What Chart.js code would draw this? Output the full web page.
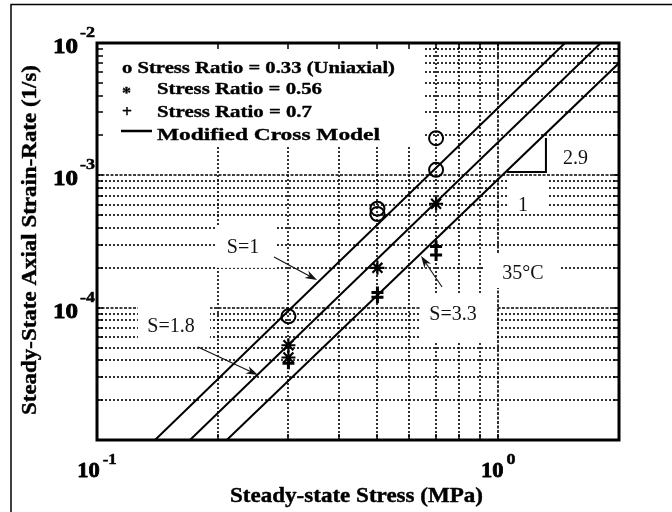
<!DOCTYPE html>
<html>
<head>
<meta charset="utf-8">
<script src="https://cdn.jsdelivr.net/npm/chart.js@4.4.1/dist/chart.umd.min.js"></script>
<style>
  html, body { margin: 0; padding: 0; background: #fff; }
  canvas { display: block; }
</style>
</head>
<body>
<canvas id="creep" width="672" height="512" style="width:672px;height:512px"></canvas>
<script>
// Measured steady-state creep: stress (MPa) vs axial strain-rate (1/s)
const stressUniaxial = [0.3, 0.5, 0.5, 0.7, 0.7];
const rateUniaxial   = [8.6e-5, 5.6e-4, 5.1e-4, 1.91e-3, 1.1e-3];
const stress056      = [0.3, 0.3, 0.5, 0.7];
const rate056        = [5.2e-5, 4.2e-5, 2.0e-4, 6.1e-4];
const stress07       = [0.3, 0.5, 0.5, 0.7, 0.7];
const rate07         = [3.8e-5, 1.3e-4, 1.2e-4, 2.9e-4, 2.5e-4];

// Modified Cross Model fits (straight lines on log-log axes), end points
const modelStressS1  = [0.1395, 1.467];
const modelRateS1    = [1e-5, 1e-2];
const modelStressS18 = [0.1705, 1.801];
const modelRateS18   = [1e-5, 1e-2];
const modelStressS33 = [0.2106, 2.0];
const modelRateS33   = [1e-5, 7.06e-3];

// Grid / tick values
const xGrid = [0.1, 0.2, 0.3, 0.4, 0.5, 0.6, 0.7, 0.8, 0.9, 1, 2];
const yGrid = [1e-5, 2e-5, 3e-5, 4e-5, 5e-5, 6e-5, 7e-5, 8e-5, 9e-5,
               1e-4, 2e-4, 3e-4, 4e-4, 5e-4, 6e-4, 7e-4, 8e-4, 9e-4,
               1e-3, 2e-3, 3e-3, 4e-3, 5e-3, 6e-3, 7e-3, 8e-3, 9e-3, 1e-2];
const xMajor = [0.1, 1];
const xExponents = ['-1', '0'];
const yMajor = [1e-2, 1e-3, 1e-4];
const yExponents = ['-2', '-3', '-4'];

const legendTexts = ['o Stress Ratio = 0.33 (Uniaxial)', '*', 'Stress Ratio = 0.56',
                     '+', 'Stress Ratio = 0.7', 'Modified Cross Model'];
const xTitle = 'Steady-state Stress (MPa)';
const yTitle = 'Steady-State Axial Strain-Rate (1/s)';

// Annotation layout, in axis units
const notes = [
  { text: 'S=1',   x: 0.2311, y: 2.588e-4 },
  { text: 'S=1.8', x: 0.1529, y: 6.55e-5 },
  { text: 'S=3.3', x: 0.7713, y: 8.07e-5 },
  { text: '35°C',  x: 1.153,  y: 1.647e-4 },
  { text: '1',     x: 1.153,  y: 5.38e-4 },
  { text: '2.9',   x: 1.559,  y: 1.218e-3 }
];
const noteBoxes = [
  [0.199, 0.2778, 2.0e-4, 4.214e-4],
  [0.1265, 0.1913, 5.9e-5, 1.066e-4],
  [0.6384, 0.9931, 5.6e-5, 1.29e-4],
  [0.922, 1.426, 1.408e-4, 2.59e-4],
  [1.058, 1.331, 5.28e-4, 9.22e-4],
  [0.1, 0.6496, 1.637e-3, 1e-2]      // legend panel
];
const arrows = [
  [0.2762, 2.414e-4, 0.3535, 1.618e-4],
  [0.1785, 5.04e-5, 0.2519, 3.10e-5],
  [0.7244, 1.432e-4, 0.6422, 2.457e-4]
];
const slopeTri = { x0: 1.052, x1: 1.315, y0: 1.06e-3, y1: 1.915e-3 };

const toPoints = (xs, ys) => xs.map((v, i) => ({ x: v, y: ys[i] }));

const SERIF = '"Liberation Serif", "Times New Roman", serif';

// Draw text stretched to a given advance width; optional outline thickens the strokes
function fitText(ctx, text, font, x, y, width, angle, heavy) {
  ctx.save();
  ctx.font = font;
  const natural = ctx.measureText(text).width;
  ctx.translate(x, y);
  if (angle) ctx.rotate(angle);
  ctx.scale(width / natural, 1);
  ctx.textAlign = 'left';
  ctx.textBaseline = 'alphabetic';
  ctx.fillText(text, 0, 0);
  if (heavy) {
    ctx.lineWidth = heavy;
    ctx.lineJoin = 'round';
    ctx.strokeStyle = ctx.fillStyle;
    ctx.strokeText(text, 0, 0);
  }
  ctx.restore();
}

function arrow(ctx, x1, y1, x2, y2) {
  const ang = Math.atan2(y2 - y1, x2 - x1);
  const len = 12, half = 4;
  ctx.beginPath();
  ctx.moveTo(x1, y1);
  ctx.lineTo(x2 - Math.cos(ang) * 6, y2 - Math.sin(ang) * 6);
  ctx.lineWidth = 1.1;
  ctx.stroke();
  ctx.beginPath();
  ctx.moveTo(x2, y2);
  ctx.lineTo(x2 - len * Math.cos(ang) + half * Math.sin(ang), y2 - len * Math.sin(ang) - half * Math.cos(ang));
  ctx.lineTo(x2 - 0.7 * len * Math.cos(ang), y2 - 0.7 * len * Math.sin(ang));
  ctx.lineTo(x2 - len * Math.cos(ang) - half * Math.sin(ang), y2 - len * Math.sin(ang) + half * Math.cos(ang));
  ctx.closePath();
  ctx.fill();
}

const figurePlugin = {
  id: 'figureDecor',
  beforeDraw(chart) {
    const ctx = chart.ctx;
    ctx.save();
    ctx.fillStyle = '#fff';
    ctx.fillRect(0, 0, chart.width, chart.height);
    ctx.restore();
  },
  beforeDatasetsDraw(chart) {
    const { ctx, chartArea: a, scales: { x, y } } = chart;
    ctx.save();
    ctx.strokeStyle = '#000';
    ctx.lineWidth = 1.6;
    xGrid.forEach(v => {
      if (v <= 0.1 || v >= 2) return;
      const px = Math.round(x.getPixelForValue(v));
      ctx.setLineDash(xMajor.includes(v) ? [3, 1.5] : [2, 2]);
      ctx.beginPath(); ctx.moveTo(px, a.top); ctx.lineTo(px, a.bottom); ctx.stroke();
    });
    yGrid.forEach(v => {
      if (v <= 1e-5 || v >= 1e-2) return;
      const py = Math.round(y.getPixelForValue(v));
      ctx.setLineDash(yMajor.includes(v) ? [3, 1.5] : [2, 2]);
      ctx.beginPath(); ctx.moveTo(a.left, py); ctx.lineTo(a.right, py); ctx.stroke();
    });
    ctx.setLineDash([]);
    // white panels behind the labels
    ctx.fillStyle = '#fff';
    noteBoxes.forEach(([x0, x1, y0, y1]) => {
      const l = x.getPixelForValue(x0), r = x.getPixelForValue(x1);
      const t = y.getPixelForValue(y1), b = y.getPixelForValue(y0);
      ctx.fillRect(l, t, r - l, b - t);
    });
    ctx.restore();
  },
  afterDatasetsDraw(chart) {
    const { ctx, chartArea: a, scales: { x, y } } = chart;
    ctx.save();
    ctx.strokeStyle = '#000';
    ctx.fillStyle = '#000';

    // inward ticks on all four sides
    ctx.lineWidth = 1.5;
    xGrid.forEach(v => {
      if (v <= 0.1 || v >= 2) return;
      const px = Math.round(x.getPixelForValue(v));
      ctx.beginPath();
      ctx.moveTo(px, a.bottom); ctx.lineTo(px, a.bottom - 6);
      ctx.moveTo(px, a.top); ctx.lineTo(px, a.top + 6);
      ctx.stroke();
    });
    yGrid.forEach(v => {
      if (v <= 1e-5 || v >= 1e-2) return;
      const py = Math.round(y.getPixelForValue(v));
      ctx.beginPath();
      ctx.moveTo(a.left, py); ctx.lineTo(a.left + 6, py);
      ctx.moveTo(a.right, py); ctx.lineTo(a.right - 6, py);
      ctx.stroke();
    });

    // axes box
    ctx.lineWidth = 3;
    ctx.strokeRect(a.left, a.top, a.right - a.left, a.bottom - a.top);

    // legend
    const LF = 'bold 17px ' + SERIF;
    const L = a.left, T = a.top;
    fitText(ctx, legendTexts[0], LF, L + 25, T + 30, 273, 0, 0.35);
    fitText(ctx, legendTexts[1], LF, L + 25, T + 55, 9, 0, 0.35);
    fitText(ctx, legendTexts[2], LF, L + 60, T + 51, 165, 0, 0.35);
    fitText(ctx, legendTexts[3], LF, L + 25, T + 74, 10, 0, 0.35);
    fitText(ctx, legendTexts[4], LF, L + 60, T + 74, 155, 0, 0.35);
    ctx.lineWidth = 2.5;
    ctx.beginPath(); ctx.moveTo(L + 24, T + 88); ctx.lineTo(L + 55, T + 88); ctx.stroke();
    fitText(ctx, legendTexts[5], LF, L + 60, T + 97, 223, 0, 0.35);

    // slope triangle
    ctx.lineWidth = 2;
    ctx.beginPath();
    ctx.moveTo(x.getPixelForValue(slopeTri.x0), y.getPixelForValue(slopeTri.y0));
    ctx.lineTo(x.getPixelForValue(slopeTri.x1), y.getPixelForValue(slopeTri.y0));
    ctx.lineTo(x.getPixelForValue(slopeTri.x1), y.getPixelForValue(slopeTri.y1));
    ctx.stroke();

    // annotation labels
    ctx.fillStyle = '#111';
    ctx.font = '20px ' + SERIF;
    ctx.textAlign = 'center';
    ctx.textBaseline = 'alphabetic';
    notes.forEach(n => ctx.fillText(n.text, x.getPixelForValue(n.x), y.getPixelForValue(n.y)));
    ctx.strokeStyle = '#111';
    arrows.forEach(([x1, y1, x2, y2]) => arrow(ctx,
      x.getPixelForValue(x1), y.getPixelForValue(y1),
      x.getPixelForValue(x2), y.getPixelForValue(y2)));

    // tick labels 10^n
    ctx.fillStyle = '#000';
    const BF = 'bold 21px ' + SERIF, SF = 'bold 15px ' + SERIF;
    yMajor.forEach((v, i) => {
      const py = y.getPixelForValue(v);
      fitText(ctx, '10', BF, a.left - 44, py + 10, 25, 0, 0.8);
      fitText(ctx, yExponents[i], SF, a.left - 17, py - 6, 15, 0, 0.5);
    });
    xMajor.forEach((v, i) => {
      const px = x.getPixelForValue(v);
      const supW = xExponents[i].length > 1 ? 14 : 9;
      const total = 22.5 + 3 + supW;
      const left = px - total / 2;
      fitText(ctx, '10', BF, left, a.bottom + 37, 22.5, 0, 0.8);
      fitText(ctx, xExponents[i], SF, left + 25.5, a.bottom + 24, supW, 0, 0.5);
    });

    // axis titles
    const TF = 'bold 20px ' + SERIF;
    fitText(ctx, xTitle, TF, 230, a.bottom + 62, 253, 0, 0.4);
    fitText(ctx, yTitle, TF, 36, 415, 350, -Math.PI / 2, 0.4);

    // figure frame edges
    ctx.lineWidth = 1.5;
    ctx.strokeStyle = '#000';
    ctx.beginPath();
    ctx.moveTo(11, chart.height); ctx.lineTo(11, 4.5); ctx.lineTo(chart.width, 4.5);
    ctx.stroke();
    ctx.restore();
  }
};

new Chart(document.getElementById('creep'), {
  type: 'scatter',
  data: {
    datasets: [
      { label: 'Stress Ratio = 0.33 (Uniaxial)', data: toPoints(stressUniaxial, rateUniaxial),
        pointStyle: 'circle', pointRadius: 7, pointBorderWidth: 2, borderWidth: 2,
        pointBorderColor: '#000', borderColor: '#000', pointBackgroundColor: 'rgba(0,0,0,0)', backgroundColor: 'rgba(0,0,0,0)' },
      { label: 'Stress Ratio = 0.56', data: toPoints(stress056, rate056),
        pointStyle: 'star', pointRadius: 7, pointBorderWidth: 2.2, borderWidth: 2.2,
        pointBorderColor: '#000', borderColor: '#000' },
      { label: 'Stress Ratio = 0.7', data: toPoints(stress07, rate07),
        pointStyle: 'cross', pointRadius: 6, pointBorderWidth: 3, borderWidth: 3,
        pointBorderColor: '#000', borderColor: '#000' },
      { label: 'Modified Cross Model S=1', data: toPoints(modelStressS1, modelRateS1),
        showLine: true, borderColor: '#000', borderWidth: 2, pointRadius: 0, fill: false },
      { label: 'Modified Cross Model S=1.8', data: toPoints(modelStressS18, modelRateS18),
        showLine: true, borderColor: '#000', borderWidth: 2, pointRadius: 0, fill: false },
      { label: 'Modified Cross Model S=3.3', data: toPoints(modelStressS33, modelRateS33),
        showLine: true, borderColor: '#000', borderWidth: 2, pointRadius: 0, fill: false }
    ]
  },
  options: {
    responsive: false,
    animation: false,
    events: [],
    layout: { padding: { left: 97, top: 43, right: 53, bottom: 72 } },
    plugins: { legend: { display: false }, tooltip: { enabled: false }, title: { display: false } },
    scales: {
      x: { type: 'logarithmic', min: 0.1, max: 2, display: false },
      y: { type: 'logarithmic', min: 1e-5, max: 1e-2, display: false }
    }
  },
  plugins: [figurePlugin]
});
</script>
</body>
</html>
